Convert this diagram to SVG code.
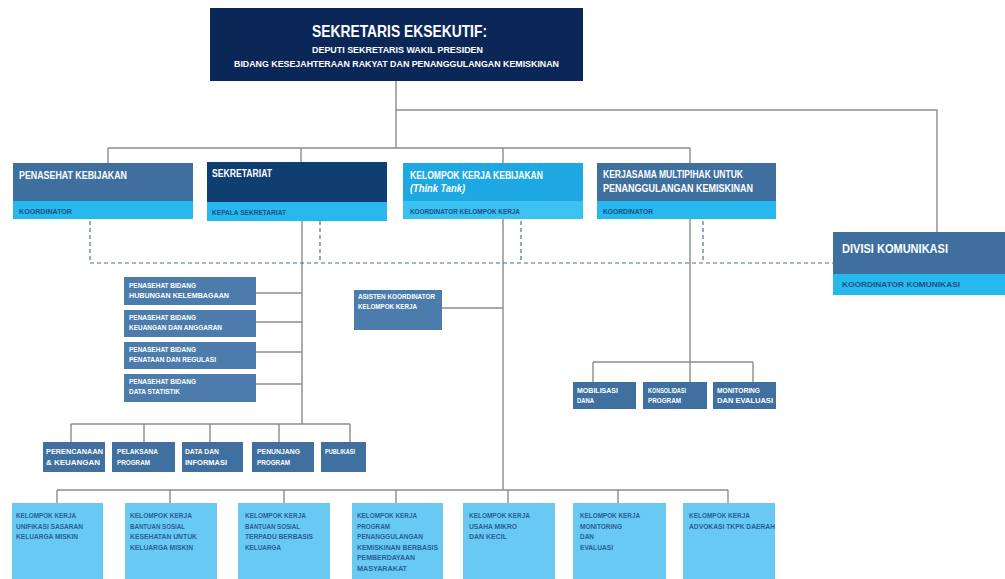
<svg xmlns="http://www.w3.org/2000/svg" width="1005" height="579" viewBox="0 0 1005 579">
  <style>
    text { font-family: "Liberation Sans", Arial, sans-serif; font-weight: bold; }
    .w { fill: #ffffff; }
    .d { fill: #1b4f88; }
    .b { fill: #2a5e95; }
    .ln { stroke: #8c8c8c; stroke-width: 1.4; fill: none; }
    .dash { stroke: #4f6f90; stroke-width: 1.2; stroke-dasharray: 4 3; fill: none; }
    .navy { fill: #0b2757; }
    .steel { fill: #3e6f9f; }
    .dnavy { fill: #0f3e70; }
    .bright { fill: #1da8e3; }
    .cyan { fill: #27b9ee; }
    .cyan2 { fill: #3cc2f1; }
    .small { fill: #3f70a0; }
    .adv { fill: #4b7cab; }
    .leaf { fill: #68caf2; }
  </style>
  <rect width="1005" height="579" fill="#ffffff"/>

  <!-- connectors -->
  <g id="connectors">
    <path class="ln" d="M396 81 V148 M396 110 H937 V232 M108 148 H690 M108 148 V163 M301 148 V162 M503 148 V163 M690 148 V163"/>
    <path class="ln" d="M302 221 V424 M256 293 H302 M256 322 H302 M256 352 H302 M256 384 H302"/>
    <path class="ln" d="M71 424 H350 M71 424 V442 M144 424 V442 M210 424 V442 M279 424 V442 M350 424 V442"/>
    <path class="ln" d="M503 219 V490 M442 308 H503"/>
    <path class="ln" d="M57 490 H728 M57 490 V503 M170 490 V503 M284 490 V503 M396 490 V503 M508 490 V503 M618 490 V503 M728 490 V503"/>
    <path class="ln" d="M690 219 V382 M593 362 H753 M593 362 V382 M753 362 V382"/>
    <path class="dash" d="M90 221 V263 M320 221 V263 M521 221 V263 M703 221 V263 M90 263 H833"/>
  </g>

  <!-- executive secretary -->
  <g id="sekretaris-eksekutif">
    <rect class="navy" x="210" y="8" width="373" height="73"/>
    <text class="w" x="312" y="37" font-size="16" textLength="175" lengthAdjust="spacingAndGlyphs">SEKRETARIS EKSEKUTIF:</text>
    <text class="w" x="312" y="53" font-size="8.5" textLength="171" lengthAdjust="spacingAndGlyphs">DEPUTI SEKRETARIS WAKIL PRESIDEN</text>
    <text class="w" x="234" y="67" font-size="8.5" textLength="325" lengthAdjust="spacingAndGlyphs">BIDANG KESEJAHTERAAN RAKYAT DAN PENANGGULANGAN KEMISKINAN</text>
  </g>

  <!-- first-level units -->
  <g id="penasehat-kebijakan">
    <rect class="steel" x="13" y="163" width="180" height="38"/>
    <rect class="cyan" x="13" y="201" width="180" height="18"/>
    <text class="w" x="19" y="179" font-size="10" textLength="108" lengthAdjust="spacingAndGlyphs">PENASEHAT KEBIJAKAN</text>
    <text class="d" x="19" y="214" font-size="6.5" textLength="53" lengthAdjust="spacingAndGlyphs">KOORDINATOR</text>
  </g>

  <g id="sekretariat">
    <rect class="dnavy" x="207" y="162" width="180" height="40"/>
    <rect class="cyan" x="207" y="202" width="180" height="19"/>
    <text class="w" x="212" y="177" font-size="10" textLength="60" lengthAdjust="spacingAndGlyphs">SEKRETARIAT</text>
    <text class="d" x="212" y="215" font-size="6.5" textLength="74" lengthAdjust="spacingAndGlyphs">KEPALA SEKRETARIAT</text>
  </g>

  <g id="pokja-kebijakan">
    <rect class="bright" x="403" y="163" width="180" height="38"/>
    <rect class="cyan2" x="403" y="201" width="180" height="18"/>
    <text class="w" x="410" y="179" font-size="10" textLength="133" lengthAdjust="spacingAndGlyphs">KELOMPOK KERJA KEBIJAKAN</text>
    <text class="w" x="410" y="192" font-size="10" font-style="italic" textLength="55" lengthAdjust="spacingAndGlyphs">(Think Tank)</text>
    <text class="d" x="410" y="214" font-size="6.5" textLength="110" lengthAdjust="spacingAndGlyphs">KOORDINATOR KELOMPOK KERJA</text>
  </g>

  <g id="kerjasama-multipihak">
    <rect class="steel" x="597" y="163" width="179" height="38"/>
    <rect class="cyan" x="597" y="201" width="179" height="18"/>
    <text class="w" x="603" y="178" font-size="10" textLength="140" lengthAdjust="spacingAndGlyphs">KERJASAMA MULTIPIHAK UNTUK</text>
    <text class="w" x="603" y="192" font-size="10" textLength="150" lengthAdjust="spacingAndGlyphs">PENANGGULANGAN KEMISKINAN</text>
    <text class="d" x="603" y="214" font-size="6.5" textLength="50" lengthAdjust="spacingAndGlyphs">KOORDINATOR</text>
  </g>

  <g id="divisi-komunikasi">
    <rect class="steel" x="833" y="232" width="172" height="42"/>
    <rect class="cyan" x="833" y="274" width="172" height="21"/>
    <text class="w" x="842" y="253" font-size="12" textLength="106" lengthAdjust="spacingAndGlyphs">DIVISI KOMUNIKASI</text>
    <text class="d" x="842" y="287" font-size="7.5" textLength="118" lengthAdjust="spacingAndGlyphs">KOORDINATOR KOMUNIKASI</text>
  </g>

  <!-- advisers under the secretariat -->
  <g id="penasehat-hubungan">
    <rect class="adv" x="124" y="277" width="132" height="28"/>
    <text class="w" x="129" y="288" font-size="6.3" textLength="67" lengthAdjust="spacingAndGlyphs">PENASEHAT BIDANG</text>
    <text class="w" x="129" y="298" font-size="6.3" textLength="100" lengthAdjust="spacingAndGlyphs">HUBUNGAN KELEMBAGAAN</text>
  </g>
  <g id="penasehat-keuangan">
    <rect class="adv" x="124" y="310" width="132" height="27"/>
    <text class="w" x="129" y="320" font-size="6.3" textLength="67" lengthAdjust="spacingAndGlyphs">PENASEHAT BIDANG</text>
    <text class="w" x="129" y="330" font-size="6.3" textLength="93" lengthAdjust="spacingAndGlyphs">KEUANGAN DAN ANGGARAN</text>
  </g>
  <g id="penasehat-penataan">
    <rect class="adv" x="124" y="342" width="132" height="27"/>
    <text class="w" x="129" y="352" font-size="6.3" textLength="67" lengthAdjust="spacingAndGlyphs">PENASEHAT BIDANG</text>
    <text class="w" x="129" y="362" font-size="6.3" textLength="87" lengthAdjust="spacingAndGlyphs">PENATAAN DAN REGULASI</text>
  </g>
  <g id="penasehat-data">
    <rect class="adv" x="124" y="374" width="132" height="28"/>
    <text class="w" x="129" y="384" font-size="6.3" textLength="67" lengthAdjust="spacingAndGlyphs">PENASEHAT BIDANG</text>
    <text class="w" x="129" y="394" font-size="6.3" textLength="51" lengthAdjust="spacingAndGlyphs">DATA STATISTIK</text>
  </g>

  <!-- secretariat sections -->
  <g id="perencanaan">
    <rect class="small" x="43" y="442" width="62" height="30"/>
    <text class="w" x="46" y="454" font-size="7.5" font-weight="normal" textLength="57" lengthAdjust="spacingAndGlyphs">PERENCANAAN</text>
    <text class="w" x="46" y="465" font-size="7.5" font-weight="normal" textLength="54" lengthAdjust="spacingAndGlyphs">&amp; KEUANGAN</text>
  </g>
  <g id="pelaksana">
    <rect class="small" x="112" y="442" width="63" height="30"/>
    <text class="w" x="117" y="454" font-size="7.5" font-weight="normal" textLength="41" lengthAdjust="spacingAndGlyphs">PELAKSANA</text>
    <text class="w" x="117" y="465" font-size="7.5" font-weight="normal" textLength="33" lengthAdjust="spacingAndGlyphs">PROGRAM</text>
  </g>
  <g id="data-informasi">
    <rect class="small" x="182" y="442" width="61" height="30"/>
    <text class="w" x="185" y="454" font-size="7.5" font-weight="normal" textLength="34" lengthAdjust="spacingAndGlyphs">DATA DAN</text>
    <text class="w" x="185" y="465" font-size="7.5" font-weight="normal" textLength="42" lengthAdjust="spacingAndGlyphs">INFORMASI</text>
  </g>
  <g id="penunjang">
    <rect class="small" x="252" y="442" width="62" height="30"/>
    <text class="w" x="257" y="454" font-size="7.5" font-weight="normal" textLength="43" lengthAdjust="spacingAndGlyphs">PENUNJANG</text>
    <text class="w" x="257" y="465" font-size="7.5" font-weight="normal" textLength="33" lengthAdjust="spacingAndGlyphs">PROGRAM</text>
  </g>
  <g id="publikasi">
    <rect class="small" x="321" y="442" width="45" height="30"/>
    <text class="w" x="325" y="454" font-size="7.5" font-weight="normal" textLength="30" lengthAdjust="spacingAndGlyphs">PUBLIKASI</text>
  </g>

  <!-- assistant coordinator -->
  <g id="asisten-koordinator">
    <rect class="adv" x="354" y="290" width="88" height="40"/>
    <text class="w" x="358" y="299" font-size="6.3" textLength="77" lengthAdjust="spacingAndGlyphs">ASISTEN KOORDINATOR</text>
    <text class="w" x="358" y="309" font-size="6.3" textLength="59" lengthAdjust="spacingAndGlyphs">KELOMPOK KERJA</text>
  </g>

  <!-- partnership sections -->
  <g id="mobilisasi">
    <rect class="small" x="573" y="382" width="63" height="27"/>
    <text class="w" x="577" y="393" font-size="7" font-weight="normal" textLength="41" lengthAdjust="spacingAndGlyphs">MOBILISASI</text>
    <text class="w" x="577" y="403" font-size="7" font-weight="normal" textLength="17" lengthAdjust="spacingAndGlyphs">DANA</text>
  </g>
  <g id="konsolidasi">
    <rect class="small" x="643" y="382" width="64" height="27"/>
    <text class="w" x="648" y="393" font-size="7" font-weight="normal" textLength="38" lengthAdjust="spacingAndGlyphs">KONSOLIDASI</text>
    <text class="w" x="648" y="403" font-size="7" font-weight="normal" textLength="33" lengthAdjust="spacingAndGlyphs">PROGRAM</text>
  </g>
  <g id="monitoring">
    <rect class="small" x="713" y="382" width="63" height="27"/>
    <text class="w" x="717" y="393" font-size="7" font-weight="normal" textLength="43" lengthAdjust="spacingAndGlyphs">MONITORING</text>
    <text class="w" x="717" y="403" font-size="7" font-weight="normal" textLength="56" lengthAdjust="spacingAndGlyphs">DAN EVALUASI</text>
  </g>

  <!-- working groups -->
  <g id="pokja-unifikasi">
    <rect class="leaf" x="12" y="503" width="91" height="76"/>
    <text class="b" x="16" y="518" font-size="7.5" textLength="60" lengthAdjust="spacingAndGlyphs">KELOMPOK KERJA</text>
    <text class="b" x="16" y="528.5" font-size="7.5" textLength="67" lengthAdjust="spacingAndGlyphs">UNIFIKASI SASARAN</text>
    <text class="b" x="16" y="539" font-size="7.5" textLength="62" lengthAdjust="spacingAndGlyphs">KELUARGA MISKIN</text>
  </g>
  <g id="pokja-bansos-kesehatan">
    <rect class="leaf" x="125" y="503" width="92" height="76"/>
    <text class="b" x="130" y="518" font-size="7.5" textLength="62" lengthAdjust="spacingAndGlyphs">KELOMPOK KERJA</text>
    <text class="b" x="130" y="528.5" font-size="7.5" textLength="55" lengthAdjust="spacingAndGlyphs">BANTUAN SOSIAL</text>
    <text class="b" x="130" y="539" font-size="7.5" textLength="67" lengthAdjust="spacingAndGlyphs">KESEHATAN UNTUK</text>
    <text class="b" x="130" y="549.5" font-size="7.5" textLength="63" lengthAdjust="spacingAndGlyphs">KELUARGA MISKIN</text>
  </g>
  <g id="pokja-bansos-terpadu">
    <rect class="leaf" x="238" y="503" width="92" height="76"/>
    <text class="b" x="245" y="518" font-size="7.5" textLength="61" lengthAdjust="spacingAndGlyphs">KELOMPOK KERJA</text>
    <text class="b" x="245" y="528.5" font-size="7.5" textLength="55" lengthAdjust="spacingAndGlyphs">BANTUAN SOSIAL</text>
    <text class="b" x="245" y="539" font-size="7.5" textLength="68" lengthAdjust="spacingAndGlyphs">TERPADU BERBASIS</text>
    <text class="b" x="245" y="549.5" font-size="7.5" textLength="36" lengthAdjust="spacingAndGlyphs">KELUARGA</text>
  </g>
  <g id="pokja-pemberdayaan">
    <rect class="leaf" x="352" y="503" width="91" height="76"/>
    <text class="b" x="357" y="518" font-size="7.5" textLength="60" lengthAdjust="spacingAndGlyphs">KELOMPOK KERJA</text>
    <text class="b" x="357" y="528.5" font-size="7.5" textLength="33" lengthAdjust="spacingAndGlyphs">PROGRAM</text>
    <text class="b" x="357" y="539" font-size="7.5" textLength="66" lengthAdjust="spacingAndGlyphs">PENANGGULANGAN</text>
    <text class="b" x="357" y="549.5" font-size="7.5" textLength="81" lengthAdjust="spacingAndGlyphs">KEMISKINAN BERBASIS</text>
    <text class="b" x="357" y="560" font-size="7.5" textLength="58" lengthAdjust="spacingAndGlyphs">PEMBERDAYAAN</text>
    <text class="b" x="357" y="570.5" font-size="7.5" textLength="50" lengthAdjust="spacingAndGlyphs">MASYARAKAT</text>
  </g>
  <g id="pokja-usaha-mikro">
    <rect class="leaf" x="463" y="503" width="92" height="76"/>
    <text class="b" x="469" y="518" font-size="7.5" textLength="61" lengthAdjust="spacingAndGlyphs">KELOMPOK KERJA</text>
    <text class="b" x="469" y="528.5" font-size="7.5" textLength="48" lengthAdjust="spacingAndGlyphs">USAHA MIKRO</text>
    <text class="b" x="469" y="539" font-size="7.5" textLength="38" lengthAdjust="spacingAndGlyphs">DAN KECIL</text>
  </g>
  <g id="pokja-monev">
    <rect class="leaf" x="573" y="503" width="93" height="76"/>
    <text class="b" x="580" y="518" font-size="7.5" textLength="60" lengthAdjust="spacingAndGlyphs">KELOMPOK KERJA</text>
    <text class="b" x="580" y="528.5" font-size="7.5" textLength="42" lengthAdjust="spacingAndGlyphs">MONITORING</text>
    <text class="b" x="580" y="539" font-size="7.5" textLength="14" lengthAdjust="spacingAndGlyphs">DAN</text>
    <text class="b" x="580" y="549.5" font-size="7.5" textLength="33" lengthAdjust="spacingAndGlyphs">EVALUASI</text>
  </g>
  <g id="pokja-advokasi">
    <rect class="leaf" x="683" y="503" width="92" height="76"/>
    <text class="b" x="689" y="518" font-size="7.5" textLength="61" lengthAdjust="spacingAndGlyphs">KELOMPOK KERJA</text>
    <text class="b" x="689" y="528.5" font-size="7.5" textLength="86" lengthAdjust="spacingAndGlyphs">ADVOKASI TKPK DAERAH</text>
  </g>
</svg>
